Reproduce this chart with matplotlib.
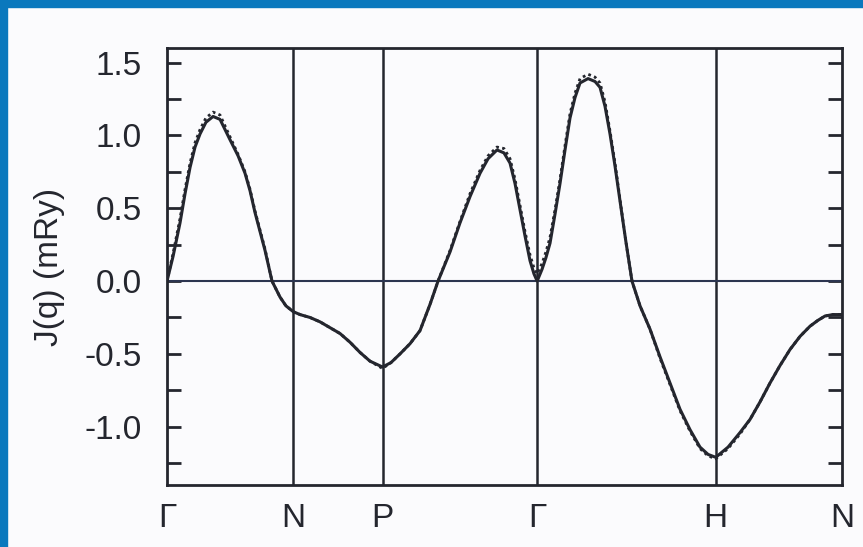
import numpy as np
import matplotlib
matplotlib.use("Agg")
import matplotlib.pyplot as plt
from matplotlib.patches import Rectangle
from matplotlib.ticker import MultipleLocator

# high symmetry points of the bcc path
sym_labels = ["\u0393", "N", "P", "\u0393", "H", "N"]
sym_pos = [0.0, 0.7071, 1.2071, 2.0731, 3.0731, 3.7802]

# points (path distance, J(q) in mRy)
q = [0.000, 0.034, 0.073, 0.101, 0.129, 0.157, 0.185, 0.218, 0.258, 0.297,
     0.353, 0.398, 0.437, 0.465, 0.493, 0.521, 0.549, 0.588, 0.633, 0.666,
     0.707, 0.745, 0.801, 0.857, 0.913, 0.969, 1.025, 1.081, 1.137, 1.207,
     1.254, 1.305, 1.361, 1.417, 1.473, 1.518, 1.585, 1.641, 1.697, 1.753,
     1.798, 1.848, 1.887, 1.921, 1.949, 1.977, 2.005, 2.033, 2.055, 2.073,
     2.100, 2.122, 2.145, 2.173, 2.201, 2.229, 2.257, 2.285, 2.313, 2.358,
     2.397, 2.425, 2.453, 2.481, 2.509, 2.537, 2.570, 2.604, 2.649, 2.705,
     2.761, 2.817, 2.873, 2.929, 2.985, 3.030, 3.073, 3.142, 3.209, 3.265,
     3.321, 3.377, 3.433, 3.489, 3.545, 3.601, 3.645, 3.685, 3.729, 3.780]
j_solid = [0.00, 0.17, 0.40, 0.60, 0.78, 0.92, 1.01, 1.09, 1.13, 1.11,
           0.97, 0.86, 0.74, 0.62, 0.47, 0.34, 0.21, 0.00, -0.11, -0.17,
           -0.21, -0.23, -0.25, -0.28, -0.32, -0.36, -0.42, -0.49, -0.55, -0.59,
           -0.56, -0.50, -0.43, -0.34, -0.16, 0.00, 0.20, 0.40, 0.58, 0.74,
           0.84, 0.90, 0.88, 0.81, 0.67, 0.49, 0.31, 0.14, 0.05, 0.00,
           0.08, 0.16, 0.26, 0.46, 0.67, 0.90, 1.12, 1.26, 1.36, 1.39,
           1.37, 1.33, 1.20, 1.01, 0.79, 0.55, 0.27, 0.00, -0.17, -0.33,
           -0.52, -0.70, -0.88, -1.02, -1.14, -1.19, -1.21, -1.14, -1.04, -0.95,
           -0.83, -0.70, -0.58, -0.47, -0.38, -0.31, -0.27, -0.24, -0.23, -0.23]
j_dotted = [0.00, 0.19, 0.43, 0.63, 0.81, 0.95, 1.04, 1.12, 1.16, 1.14,
            0.99, 0.87, 0.75, 0.63, 0.48, 0.35, 0.22, 0.00, -0.11, -0.17,
            -0.21, -0.23, -0.25, -0.28, -0.32, -0.36, -0.42, -0.49, -0.55, -0.60,
            -0.56, -0.50, -0.43, -0.34, -0.16, 0.00, 0.21, 0.41, 0.60, 0.76,
            0.86, 0.92, 0.91, 0.84, 0.70, 0.52, 0.34, 0.18, 0.09, 0.05,
            0.12, 0.20, 0.30, 0.49, 0.70, 0.93, 1.15, 1.29, 1.39, 1.42,
            1.40, 1.36, 1.23, 1.03, 0.81, 0.56, 0.27, 0.00, -0.17, -0.33,
            -0.53, -0.71, -0.89, -1.03, -1.15, -1.20, -1.22, -1.15, -1.05, -0.95,
            -0.83, -0.70, -0.58, -0.47, -0.38, -0.31, -0.27, -0.24, -0.23, -0.23]

ink = "#24262e"
plt.rcParams["font.family"] = ["Liberation Sans", "DejaVu Sans"]

fig = plt.figure(figsize=(8.63, 5.47), dpi=100)
fig.patch.set_facecolor("#fbfbfd")
# blue frame strips left and top
fig.patches.append(Rectangle((0, 0), 7/863, 1, transform=fig.transFigure,
                             color="#0a78bd", zorder=0))
fig.patches.append(Rectangle((0, 1-7/547), 1, 7/547, transform=fig.transFigure,
                             color="#0a78bd", zorder=0))

ax = fig.add_axes([167/863, 1-485/547, 675/863, 437/547])
ax.set_facecolor("#fbfbfd")

for xp in sym_pos[1:-1]:
    ax.axvline(xp, color=ink, lw=1.8)
ax.axhline(0, color="#2c3550", lw=1.5)

ax.plot(q, j_dotted, color=ink, lw=2.0, ls=(0, (1, 1.2)))
ax.plot(q, j_solid, color=ink, lw=2.2)

ax.set_xlim(sym_pos[0], sym_pos[-1])
ax.set_ylim(-1.4, 1.6)
ax.set_xticks(sym_pos)
ax.set_xticklabels(sym_labels)
ax.yaxis.set_minor_locator(MultipleLocator(0.25))
ax.set_yticks([1.5, 1.0, 0.5, 0.0, -0.5, -1.0])
ax.set_yticklabels(["1.5", "1.0", "0.5", "0.0", "-0.5", "-1.0"])

ax.tick_params(axis="x", length=0, pad=13, labelsize=24, colors=ink)
ax.tick_params(axis="y", which="both", direction="in", length=10, width=2,
               left=True, right=True, color=ink)
ax.tick_params(axis="y", which="major", pad=18, labelsize=24, labelcolor=ink)

for s in ax.spines.values():
    s.set_color(ink)
    s.set_linewidth(2)

ax.set_ylabel("J(q) (mRy)", fontsize=24, color=ink, labelpad=14)

fig.savefig("out.png", dpi=100)
